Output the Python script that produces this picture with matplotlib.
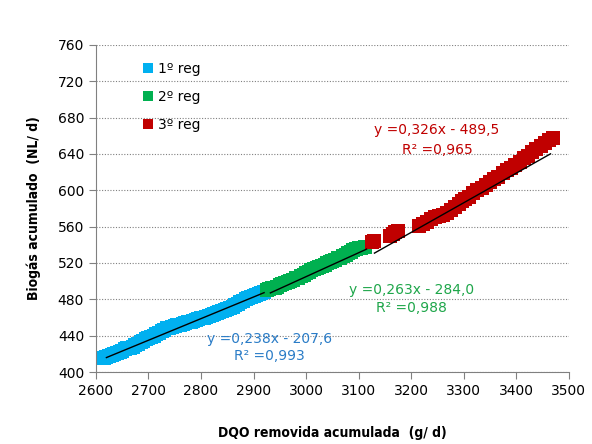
import matplotlib
matplotlib.use("Agg")
import matplotlib.pyplot as plt
import numpy as np

# 1º reg (blue)
x1 = [2610, 2615, 2620, 2625, 2630, 2635, 2640, 2645, 2650, 2655, 2660, 2665, 2670, 2675,
      2680, 2685, 2690, 2695, 2700, 2705, 2710, 2715, 2720, 2725, 2730, 2735, 2740, 2745,
      2750, 2755, 2760, 2765, 2770, 2775, 2780, 2785, 2790, 2795, 2800, 2805, 2810, 2815,
      2820, 2825, 2830, 2835, 2840, 2845, 2850, 2855, 2860, 2865, 2870, 2875, 2880, 2885,
      2890, 2895, 2900, 2905, 2910, 2915, 2920]
y1 = [415, 416, 417, 418, 419, 420, 421, 422, 423, 425, 426, 427, 428, 430,
      431, 433, 434, 436, 437, 439, 440, 442, 443, 445, 446, 448, 449, 450,
      451, 452, 452, 453, 454, 455, 455, 456, 457, 458, 459, 460, 461, 462,
      463, 464, 465, 466, 467, 468, 469, 471, 472, 474, 475, 477, 478, 480,
      481, 483, 484, 485, 486, 487, 488]

# 2º reg (green)
x2 = [2925, 2930, 2935, 2940, 2945, 2950, 2955, 2960, 2965, 2970, 2975, 2980, 2985, 2990,
      2995, 3000, 3005, 3010, 3015, 3020, 3025, 3030, 3035, 3040, 3045, 3050, 3055, 3060,
      3065, 3070, 3075, 3080, 3085, 3090, 3095, 3100, 3105, 3112]
y2 = [490, 491, 492, 493, 494, 496, 497, 498, 499, 500, 501, 503, 504, 506,
      507, 509, 510, 512, 513, 515, 516, 517, 518, 520, 521, 522, 523, 525,
      526, 528, 529, 531, 532, 534, 535, 536, 537, 538]

# 3º reg (red)
x3 = [3125, 3130, 3160, 3165, 3170, 3175, 3215, 3222, 3230, 3238, 3245, 3252, 3260, 3268,
      3276, 3284, 3290, 3296, 3302, 3310, 3318, 3326, 3334, 3342, 3350, 3358, 3366, 3374,
      3382, 3390, 3398, 3406, 3414, 3422, 3430, 3438, 3446, 3454, 3462, 3470]
y3 = [543, 544, 550, 552, 554, 555, 561, 563, 565, 568, 571, 572, 573, 575,
      578, 582, 585, 588, 590, 593, 597, 600, 603, 606, 609, 612, 615, 619,
      622, 625, 628, 631, 635, 638, 642, 645, 649, 652, 655, 657]

# trend lines (slope, intercept, x start, x end)
fits = [(0.238, -207.6, 2620, 2920),
        (0.263, -284.0, 2932, 3115),
        (0.326, -489.5, 3130, 3465)]

colors = ["#00B0F0", "#00B050", "#C00000"]
labels = ["1º reg", "2º reg", "3º reg"]

fig = plt.figure(figsize=(5.92, 4.44), dpi=100)
ax = fig.add_axes([0.162, 0.162, 0.799, 0.737])

for xs, ys, c, lab in zip([x1, x2, x3], [y1, y2, y3], colors, labels):
    ax.plot(xs, ys, "s", color=c, markersize=9.5, markeredgewidth=0, label=lab, linestyle="none")

for a, b, xs, xe in fits:
    xx = np.array([xs, xe])
    ax.plot(xx, a * xx + b, color="black", lw=1)

ax.set_xlim(2600, 3500)
ax.set_ylim(400, 760)
ax.set_xticks(np.arange(2600, 3501, 100))
ax.set_yticks(np.arange(400, 761, 40))
ax.tick_params(colors="#808080", labelcolor="black", labelsize=10, length=5, direction="out")
ax.yaxis.grid(True, linestyle=(0, (1, 1.5)), color="#808080", lw=0.8)
ax.set_axisbelow(True)
for s in ["top", "right"]:
    ax.spines[s].set_visible(False)
for s in ["left", "bottom"]:
    ax.spines[s].set_color("#808080")

ax.set_xlabel("DQO removida acumulada  (g/ d)", fontsize=10, fontweight="bold",
              fontstretch="condensed", labelpad=20)
ax.set_ylabel("Biogás acumulado  (NL/ d)", fontsize=10, fontweight="bold",
              fontstretch="condensed", labelpad=12)

leg = ax.legend(loc="upper left", bbox_to_anchor=(0.07, 0.985), frameon=False, fontsize=10,
                handletextpad=0.2, labelspacing=1.0, markerscale=0.76, handlelength=1.0)

ax.text(2931, 436, "y =0,238x - 207,6", color="#2A7CC7", fontsize=10, ha="center", va="center")
ax.text(2931, 417.5, "R² =0,993", color="#2A7CC7", fontsize=10, ha="center", va="center")
ax.text(3201, 490, "y =0,263x - 284,0", color="#1EA64A", fontsize=10, ha="center", va="center")
ax.text(3201, 470.5, "R² =0,988", color="#1EA64A", fontsize=10, ha="center", va="center")
ax.text(3249, 666, "y =0,326x - 489,5", color="#C00000", fontsize=10, ha="center", va="center")
ax.text(3249, 644.5, "R² =0,965", color="#C00000", fontsize=10, ha="center", va="center")

fig.savefig("out.png", dpi=100)
